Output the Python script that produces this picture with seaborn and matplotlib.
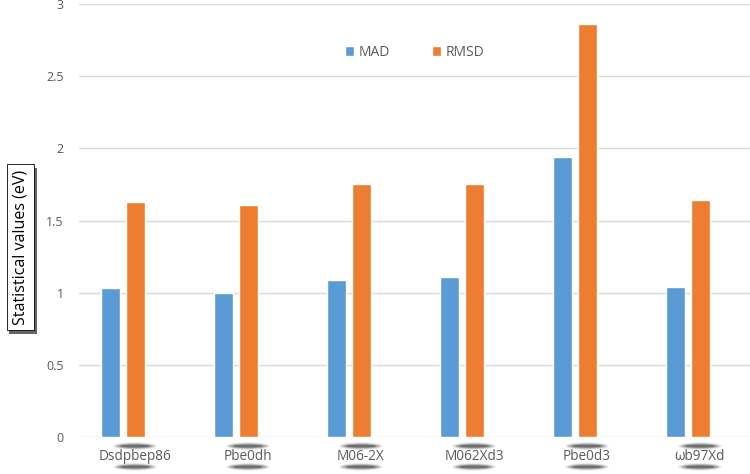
import numpy as np
import pandas as pd
import seaborn as sns
import matplotlib.pyplot as plt
import matplotlib.patheffects as pe
import matplotlib.transforms as mtransforms
from matplotlib.patches import Ellipse

# data
methods = ["Dsdpbep86", "Pbe0dh", "M06-2X", "M062Xd3", "Pbe0d3", "ωb97Xd"]
mad = [1.03, 1.00, 1.09, 1.11, 1.94, 1.04]
rmsd = [1.63, 1.61, 1.75, 1.75, 2.86, 1.64]
yticks = [0, 0.5, 1, 1.5, 2, 2.5, 3]
ytick_labels = ["0", "0.5", "1", "1.5", "2", "2.5", "3"]

BLUE = "#5B9BD5"
ORANGE = "#ED7D31"
GREY = "#595959"

df = pd.DataFrame({
    "method": methods * 2,
    "value": mad + rmsd,
    "stat": ["MAD"] * len(methods) + ["RMSD"] * len(methods),
})

sns.set_style("white")
plt.rcParams["font.family"] = ["Open Sans", "DejaVu Sans"]

fig = plt.figure(figsize=(7.5, 4.74), dpi=100)
ax = fig.add_axes([79 / 750, 37 / 474, 671 / 750, 433 / 474])

sns.barplot(data=df, x="method", y="value", hue="stat", palette=[BLUE, ORANGE],
            width=0.44, gap=0.24, saturation=1, ax=ax)

ax.set_ylim(0, 3)
ax.set_xlim(-0.389, 5.549)
ax.set_yticks(yticks)
ax.set_yticklabels(ytick_labels)
ax.yaxis.grid(True, color="#D9D9D9", lw=1)
ax.set_axisbelow(True)
for s in ax.spines.values():
    s.set_visible(False)
ax.tick_params(axis="y", length=0, pad=11, labelcolor=GREY, labelsize=9)
ax.tick_params(axis="x", length=0, pad=9, labelcolor=GREY, labelsize=9.8)
ax.set_xlabel("")
ax.set_ylabel("")

# category labels sit a little right of the bar pairs
shift = mtransforms.ScaledTranslation(12 / 100, 0, fig.dpi_scale_trans)
for t in ax.get_xticklabels():
    t.set_transform(t.get_transform() + shift)

# shadow blobs around the category labels
tr = ax.get_xaxis_transform()
for i in range(len(methods)):
    for yc in (-0.021, -0.069):
        for w, h, a in ((0.38, 0.017, 0.15), (0.33, 0.012, 0.3), (0.27, 0.007, 0.55)):
            ax.add_patch(Ellipse((i + 0.106, yc), w, h, transform=tr, fc="#3a3a3a",
                                 ec="none", alpha=a, clip_on=False))

leg = ax.legend(loc="center", bbox_to_anchor=(0.5, 0.889), ncol=2, frameon=False,
                handlelength=0.7, handleheight=0.7, handletextpad=0.3,
                columnspacing=3.0, fontsize=10)
for t in leg.get_texts():
    t.set_color(GREY)

lab = fig.text(0.027, (474 - 247) / 474, "Statistical values (eV)", rotation=90,
               ha="center", va="center", fontsize=11.5, color="black",
               bbox=dict(boxstyle="square,pad=0.35", fc="white", ec="black", lw=0.6))
fig.canvas.draw()
lab.get_bbox_patch().set_path_effects([
    pe.SimplePatchShadow(offset=(2, -3), shadow_rgbFace="black", alpha=0.6),
    pe.Normal(),
])

fig.savefig("out.png", dpi=100)
